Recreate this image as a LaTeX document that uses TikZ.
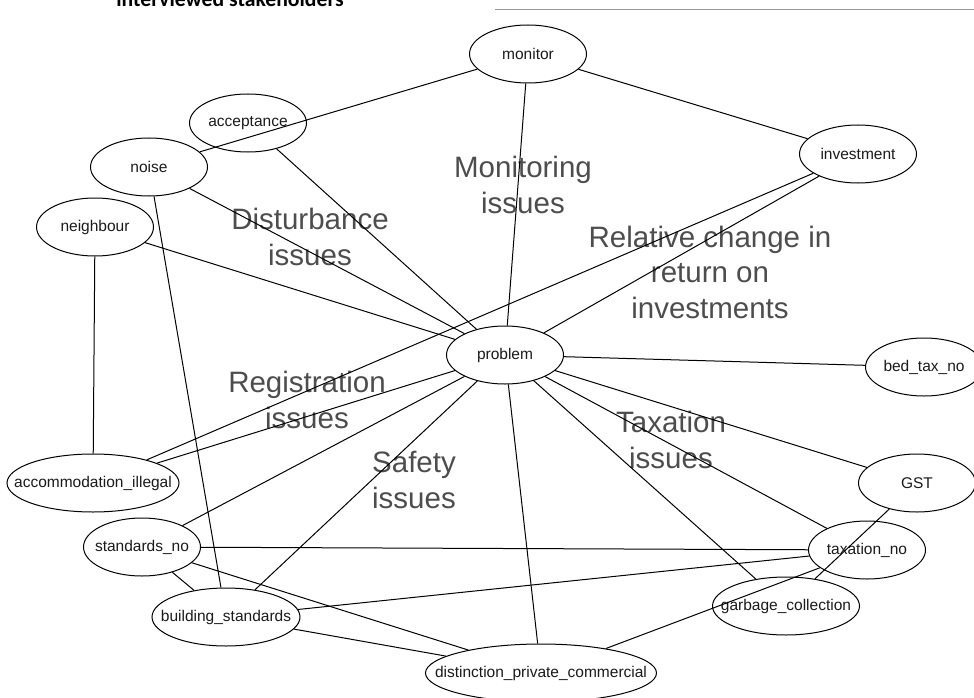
\documentclass[tikz,border=0pt]{standalone}
\usepackage{fontspec}
\setmainfont{Liberation Sans}
\newfontfamily\headfont{Carlito}
\usetikzlibrary{shapes.geometric}
\definecolor{issuegray}{HTML}{4D4D4D}
\definecolor{nodeink}{HTML}{1A1A1A}
\newcommand{\tagname}[1]{\makebox[0pt]{#1}}
\begin{document}
\begin{tikzpicture}[x=1pt,y=-1pt,
		tag/.style={draw,ellipse,line width=1pt,inner sep=0pt,minimum width=117pt,minimum height=58pt,text=nodeink,font=\fontsize{15.5}{18}\selectfont},
		issue/.style={align=center,text=issuegray,font=\fontsize{29.5}{35.5}\selectfont},
		link/.style={line width=1pt}]
		\useasboundingbox (0,0) rectangle (974,698);
		\node[anchor=base,font=\headfont\bfseries\fontsize{21.7}{24}\selectfont] (heading) at (230,7) {interviewed stakeholders};
		\draw[gray!80,line width=0.8pt] (495,9) -- (974,9);
		
		\node[issue] (monlabel) at (523,185) {Monitoring\\issues};
		\node[issue] (distlabel) at (310,237) {Disturbance\\issues};
		\node[issue] (retlabel) at (710,272) {Relative change in\\return on\\investments};
		\node[issue] (reglabel) at (307,400) {Registration\\issues};
		\node[issue] (safelabel) at (414,480) {Safety\\issues};
		\node[issue] (taxlabel) at (671,440) {Taxation\\issues};
		
		\node[tag] (monitor) at (528,54) {\tagname{monitor}};
		\node[tag] (acceptance) at (248,123) {\tagname{acceptance}};
		\node[tag] (noise) at (149,167) {\tagname{noise}};
		\node[tag] (neighbour) at (95,227) {\tagname{neighbour}};
		\node[tag] (investment) at (858,154) {\tagname{investment}};
		\node[tag] (problem) at (505,355) {\tagname{problem}};
		\node[tag] (bedtax) at (924,367) {\tagname{bed\_tax\_no}};
		\node[tag,minimum width=172pt] (illegal) at (93,483) {\tagname{accommodation\_illegal}};
		\node[tag] (GST) at (917,483) {\tagname{GST}};
		\node[tag] (standards) at (142,547) {\tagname{standards\_no}};
		\node[tag] (taxation) at (867,550) {\tagname{taxation\_no}};
		\node[tag,minimum width=147pt] (garbage) at (786,606) {\tagname{garbage\_collection}};
		\node[tag,minimum width=148pt] (building) at (226,617) {\tagname{building\_standards}};
		\node[tag,minimum width=231pt] (distinction) at (541,673) {\tagname{distinction\_private\_commercial}};
		
		\draw[link] (noise) -- (monitor);
		\draw[link] (monitor) -- (investment);
		\draw[link] (monitor) -- (problem);
		\draw[link] (acceptance) -- (problem);
		\draw[link] (noise) -- (problem);
		\draw[link] (noise) -- (building);
		\draw[link] (neighbour) -- (problem);
		\draw[link] (neighbour) -- (illegal);
		\draw[link] (investment) -- (illegal);
		\draw[link] (investment) -- (problem);
		\draw[link] (problem) -- (illegal);
		\draw[link] (problem) -- (standards);
		\draw[link] (problem) -- (building);
		\draw[link] (problem) -- (distinction);
		\draw[link] (problem) -- (garbage);
		\draw[link] (problem) -- (taxation);
		\draw[link] (problem) -- (GST);
		\draw[link] (problem) -- (bedtax);
		\draw[link] (standards) -- (taxation);
		\draw[link] (standards) -- (building);
		\draw[link] (standards) -- (distinction);
		\draw[link] (building) -- (taxation);
		\draw[link] (building) -- (distinction);
		\draw[link] (taxation) -- (distinction);
		\draw[link] (GST) -- (garbage);
		
		\end{tikzpicture}
\end{document}
